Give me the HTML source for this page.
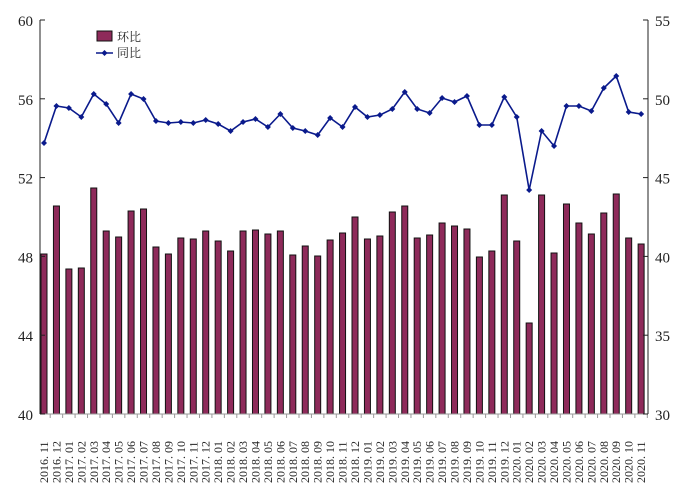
<!DOCTYPE html>
<html><head><meta charset="utf-8"><style>
body{margin:0;background:#fff}
svg{display:block}
text{font-family:"Liberation Serif","Noto Serif CJK SC",serif;fill:#222}
</style></head><body>
<svg id="s" width="675" height="488" xmlns="http://www.w3.org/2000/svg"></svg>
<script>
const bars=[254,206,269,268,188,231,237,211,209,247,254,238,239,231,241,251,231,230,234,231,255,246,256,240,233,217,239,236,212,206,238,235,223,226,229,257,251,195,241,323,195,253,204,223,234,213,194,238,244];
const line=[143,106,108,117,94,104,123,94,99,121,123,122,123,120,124,131,122,119,127,114,128,131,135,118,127,107,117,115,109,92,109,113,98,102,96,125,125,97,117,190,131,146,106,106,111,88,76,112,114];
let h='';
const x0=44,dx=12.44;
const labels=[];
for(let i=0;i<49;i++){let y=2016,m=11+i;y+=Math.floor((m-1)/12);m=((m-1)%12)+1;labels.push(y+'. '+(m<10?'0'+m:m));}
for(let i=0;i<49;i++){const cx=x0+i*dx;h+=`<rect x="${cx-3}" y="${bars[i]}" width="6" height="${414-bars[i]}" fill="#8e2a5a" stroke="#111" stroke-width="1"/>`;
h+=`<line x1="${cx+6.2}" y1="414" x2="${cx+6.2}" y2="418" stroke="#999"/>`;
h+=`<text transform="translate(${cx+4},483) rotate(-90)" font-size="12">${labels[i]}</text>`;}
h+=`<polyline fill="none" stroke="#0a1a8c" stroke-width="1.6" points="${line.map((y,i)=>(x0+i*dx)+','+y).join(' ')}"/>`;
for(let i=0;i<49;i++)h+=`<path d="M${x0+i*dx} ${line[i]-3}l3 3l-3 3l-3 -3z" fill="#0a1a8c"/>`;
h+=`<line x1="40" y1="20" x2="40" y2="414" stroke="#222"/><line x1="648" y1="20" x2="648" y2="414" stroke="#222"/><line x1="40" y1="414" x2="648" y2="414" stroke="#999"/>`;
[60,56,52,48,44,40].forEach((v,k)=>{const y=20+k*78.8;h+=`<line x1="40" y1="${y}" x2="45" y2="${y}" stroke="#222"/><text x="33" y="${y+6}" font-size="15" text-anchor="end">${v}</text>`;});
[55,50,45,40,35,30].forEach((v,k)=>{const y=20+k*78.8;h+=`<line x1="643" y1="${y}" x2="648" y2="${y}" stroke="#222"/><text x="655" y="${y+6}" font-size="15">${v}</text>`;});
h+=`<rect x="97" y="31" width="15" height="10" fill="#8e2a5a" stroke="#111"/><text x="117" y="41" font-size="12">环比</text>`;
h+=`<line x1="96" y1="53" x2="113" y2="53" stroke="#0a1a8c" stroke-width="1.6"/><path d="M104.5 50l3 3l-3 3l-3 -3z" fill="#0a1a8c"/><text x="117" y="57" font-size="12">同比</text>`;
document.getElementById('s').innerHTML=h;
</script>
</body></html>
